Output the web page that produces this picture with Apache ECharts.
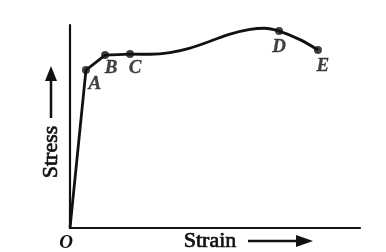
<!DOCTYPE html>
<html>
<head>
<meta charset="utf-8">
<script src="https://cdn.jsdelivr.net/npm/echarts@6/dist/echarts.min.js"></script>
<style>html,body{margin:0;padding:0;background:#fff}#c{width:386px;height:252px}</style>
</head>
<body>
<div id="c"></div>
<script>
// Elastic part: O -> A -> B -> C (straight segments)
const elasticStrain = [0, 5.5, 12.1, 20.7];
const elasticStress = [0, 77.8, 85.2, 85.7];
// Plastic part: C -> D -> E (smooth curve)
const plasticStrain = [20.7, 27.6, 34.5, 41.4, 48.3, 55.2, 62.1, 67.0, 72.1, 79.3, 85.5];
const plasticStress = [85.7, 85.6, 86.4, 88.6, 92.0, 95.5, 97.8, 98.4, 97.0, 92.8, 87.7];
// Labelled points
const pointNames = ['A', 'B', 'C', 'D', 'E'];
const pointStrain = [5.5, 12.1, 20.7, 72.1, 85.5];
const pointStress = [77.8, 85.2, 85.7, 97.0, 87.7];
const labelOffsets = [[9, 14], [6, 13], [5, 14], [0, 16], [5, 16]];

const chart = echarts.init(document.getElementById('c'));
const lineStyle = {color: '#111', width: 2.8};
chart.setOption({
  animation: false,
  grid: {left: 70, right: 26, top: 25, bottom: 24},
  xAxis: {
    type: 'value', min: 0, max: 100,
    axisLine: {lineStyle: {color: '#111', width: 2.2}},
    axisTick: {show: false}, axisLabel: {show: false}, splitLine: {show: false}
  },
  yAxis: {
    type: 'value', min: 0, max: 100,
    axisLine: {show: true, lineStyle: {color: '#111', width: 2.2}},
    axisTick: {show: false}, axisLabel: {show: false}, splitLine: {show: false}
  },
  series: [
    {type: 'line', data: elasticStrain.map((x, i) => [x, elasticStress[i]]),
     showSymbol: false, lineStyle: lineStyle, z: 3},
    {type: 'line', smooth: 0.35, data: plasticStrain.map((x, i) => [x, plasticStress[i]]),
     showSymbol: false, lineStyle: lineStyle, z: 3},
    {type: 'scatter', symbolSize: 8, itemStyle: {color: '#111'}, z: 4,
     data: pointNames.map((n, i) => ({
       name: n, value: [pointStrain[i], pointStress[i]],
       label: {show: true, position: 'inside', offset: labelOffsets[i], formatter: n,
         fontFamily: 'Liberation Serif', fontStyle: 'italic', fontWeight: 'bold', fontSize: 19, color: '#111',
         textBorderColor: '#111', textBorderWidth: 0.3}
     }))}
  ],
  graphic: [
    {type: 'text', x: 66, y: 243, style: {text: 'O', font: 'italic bold 19px "Liberation Serif"', fill: '#111', align: 'center', verticalAlign: 'middle'}},
    {type: 'text', x: 210, y: 241, style: {text: 'Strain', font: '22px "Liberation Serif"', fill: '#111', stroke: '#111', lineWidth: 0.7, align: 'center', verticalAlign: 'middle'}},
    {type: 'text', x: 51, y: 152, rotation: Math.PI / 2, style: {text: 'Stress', font: '22px "Liberation Serif"', fill: '#111', stroke: '#111', lineWidth: 0.7, align: 'center', verticalAlign: 'middle'}},
    {type: 'line', shape: {x1: 248, y1: 241, x2: 298, y2: 241}, style: {stroke: '#111', lineWidth: 2.5}},
    {type: 'polygon', shape: {points: [[296, 235], [296, 247], [313, 241]]}, style: {fill: '#111'}},
    {type: 'line', shape: {x1: 51, y1: 118, x2: 51, y2: 78}, style: {stroke: '#111', lineWidth: 2.5}},
    {type: 'polygon', shape: {points: [[45, 81], [57, 81], [51, 66]]}, style: {fill: '#111'}}
  ]
});
</script>
</body>
</html>
